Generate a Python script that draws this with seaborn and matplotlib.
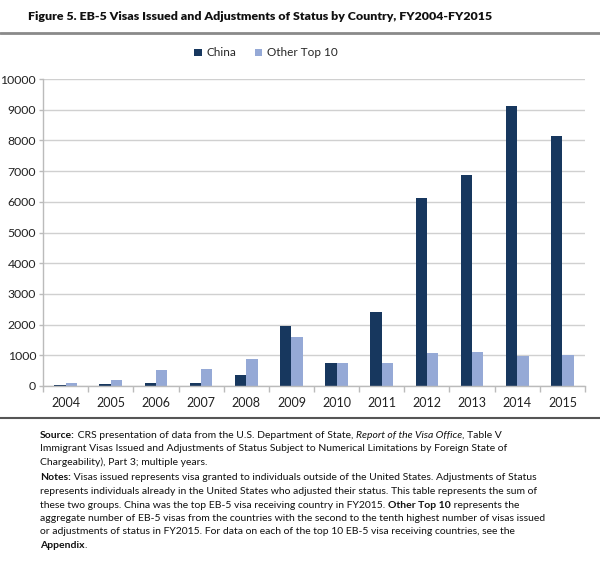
import matplotlib
matplotlib.use("Agg")
import matplotlib.pyplot as plt
import seaborn as sns
import pandas as pd
import numpy as np

years = ["2004", "2005", "2006", "2007", "2008", "2009", "2010", "2011", "2012", "2013", "2014", "2015"]
china = [40, 55, 110, 110, 355, 1970, 765, 2400, 6120, 6870, 9130, 8140]
other_top10 = [87, 206, 520, 550, 895, 1595, 765, 755, 1080, 1110, 990, 1025]
series_names = ["China", "Other Top 10"]
y_ticks = [0, 1000, 2000, 3000, 4000, 5000, 6000, 7000, 8000, 9000, 10000]

title = "Figure 5. EB-5 Visas Issued and Adjustments of Status by Country, FY2004-FY2015"

sns.set_theme(style="white")
plt.rcParams["font.family"] = ["Lato", "DejaVu Sans"]

df = pd.DataFrame({
    "year": years * 2,
    "value": china + other_top10,
    "series": [series_names[0]] * len(years) + [series_names[1]] * len(years),
})

W, H = 600, 570
fig = plt.figure(figsize=(W / 100, H / 100), dpi=100)
ax = fig.add_axes([43 / W, 1 - 386 / H, (585 - 43) / W, (386 - 79) / H])

palette = {"China": "#17375e", "Other Top 10": "#95a9d6"}
sns.barplot(data=df, x="year", y="value", hue="series", palette=palette,
            width=0.5, gap=0, saturation=1, linewidth=0, ax=ax, legend=True)

ax.set_ylim(0, 10000)
ax.set_xlim(-0.5, len(years) - 0.5)
ax.set_yticks(y_ticks)
ax.set_yticklabels([str(v) for v in y_ticks], fontsize=8.8, color="#222222")
ax.tick_params(axis="x", labelsize=9, labelcolor="#222222", length=0, pad=8)
ax.tick_params(axis="y", length=3, color="#bbbbbb", width=1, pad=2, left=True)
ax.set_xticks(np.arange(-0.5, len(years), 1), minor=True)
ax.tick_params(axis="x", which="minor", length=4, color="#bbbbbb", width=1, bottom=True)
ax.set_xlabel("")
ax.set_ylabel("")
ax.grid(axis="y", color="#d0d0d0", linewidth=1)
ax.set_axisbelow(True)
for s in ["top", "right"]:
    ax.spines[s].set_visible(False)
for s in ["left", "bottom"]:
    ax.spines[s].set_color("#bbbbbb")
    ax.spines[s].set_linewidth(1)

handles, labels = ax.get_legend_handles_labels()
ax.legend_.remove()
fig.legend(handles, labels, loc="center", bbox_to_anchor=(266 / W, 1 - 53 / H),
           ncol=2, frameon=False, fontsize=8.5, handlelength=0.6, handleheight=0.6,
           handletextpad=0.4, columnspacing=1.6)

# Title and rules
fig.text(28 / W, 1 - 17 / H, title, ha="left", va="center", fontsize=8.9,
         fontweight="heavy", color="#111111")
fig.add_artist(plt.Line2D([0, 1], [1 - 33 / H, 1 - 33 / H], color="#8a8a8a", linewidth=2))
fig.add_artist(plt.Line2D([0, 1], [1 - 418 / H, 1 - 418 / H], color="#555555", linewidth=1.5))

# Notes with mixed styles
lines = [
    [("Source:", "b"), (" CRS presentation of data from the U.S. Department of State, ", ""),
     ("Report of the Visa Office", "i"), (", Table V", "")],
    [("Immigrant Visas Issued and Adjustments of Status Subject to Numerical Limitations by Foreign State of", "")],
    [("Chargeability), Part 3; multiple years.", "")],
    [("Notes:", "b"), (" Visas issued represents visa granted to individuals outside of the United States. Adjustments of Status", "")],
    [("represents individuals already in the United States who adjusted their status. This table represents the sum of", "")],
    [("these two groups. China was the top EB-5 visa receiving country in FY2015. ", ""), ("Other Top 10", "b"),
     (" represents the", "")],
    [("aggregate number of EB-5 visas from the countries with the second to the tenth highest number of visas issued", "")],
    [("or adjustments of status in FY2015. For data on each of the top 10 EB-5 visa receiving countries, see the", "")],
    [("Appendix", "b"), (".", "")],
]
line_y = [435, 448.5, 462, 478, 491.5, 505, 518.5, 532, 545.5]

renderer = fig.canvas.get_renderer()
fs = 7.45
for runs, yp in zip(lines, line_y):
    x = 40 / W
    for txt, st in runs:
        t = fig.text(x, 1 - yp / H, txt, ha="left", va="center", fontsize=fs,
                     fontweight="bold" if "b" in st else "normal",
                     fontstyle="italic" if "i" in st else "normal", color="#111111")
        bb = t.get_window_extent(renderer=renderer)
        x += bb.width / fig.bbox.width

fig.savefig("out.png", dpi=100)
